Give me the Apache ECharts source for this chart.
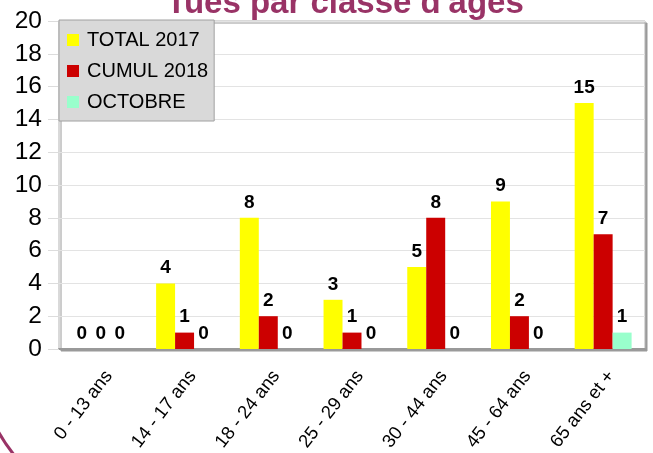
<!DOCTYPE html>
<html>
<head>
<meta charset="utf-8">
<script src="https://cdn.jsdelivr.net/npm/echarts@6/dist/echarts.min.js"></script>
<style>
  html, body { margin: 0; padding: 0; background: #fff; }
  #container { width: 653px; height: 453px; }
</style>
</head>
<body>
<div id="container"></div>
<script>
var categories = ['0 - 13 ans', '14 - 17 ans', '18 - 24 ans', '25 - 29 ans', '30 - 44 ans', '45 - 64 ans', '65 ans et +'];
var total2017 = [0, 4, 8, 3, 5, 9, 15];
var cumul2018 = [0, 1, 2, 1, 8, 2, 7];
var octobre = [0, 0, 0, 0, 0, 0, 1];

var FONT = 'Liberation Sans';
var myChart = echarts.init(document.getElementById('container'));

function barSeries(name, data, color) {
    return {
        name: name,
        type: 'bar',
        data: data,
        barGap: 0,
        barCategoryGap: '32%',
        itemStyle: { color: color },
        label: {
            show: true,
            position: 'top',
            distance: 6,
            color: '#000',
            fontFamily: FONT,
            fontWeight: 'bold',
            fontSize: 19
        }
    };
}

var option = {
    animation: false,
    backgroundColor: '#fff',
    graphic: [
        {
            type: 'text',
            x: 345, y: 20,
            z: -1,
            style: {
                text: 'Tués par classe d\'âges',
                font: 'bold 33px "Liberation Sans"',
                fill: '#993366',
                align: 'center',
                verticalAlign: 'bottom',
                shadowColor: 'rgba(0,0,0,0.55)',
                shadowOffsetX: 2,
                shadowOffsetY: 2,
                shadowBlur: 1
            }
        },
        {
            type: 'bezierCurve',
            shape: { x1: -2, y1: 431, x2: 15, y2: 456, cpx1: 5, cpy1: 444 },
            style: { stroke: '#993366', lineWidth: 3, fill: null }
        }
    ],
    grid: {
        left: 59, right: 8, top: 21, bottom: 104,
        outerBoundsMode: 'none',
        show: true,
        backgroundColor: '#fff',
        borderColor: '#b3b3b3',
        borderWidth: 1,
        shadowColor: '#9a9a9a',
        shadowOffsetX: 2,
        shadowOffsetY: 2,
        shadowBlur: 0
    },
    legend: {
        orient: 'vertical',
        left: 59, top: 20,
        icon: 'rect',
        itemWidth: 12, itemHeight: 12,
        itemGap: 11,
        padding: [10, 6, 9, 8],
        backgroundColor: '#d9d9d9',
        borderColor: '#a0a0a0',
        borderWidth: 1,
        textStyle: { fontFamily: FONT, fontSize: 20, color: '#000', padding: [0, 0, 0, 3] },
        data: ['TOTAL 2017', 'CUMUL 2018', 'OCTOBRE']
    },
    xAxis: {
        type: 'category',
        data: categories,
        axisLine: { lineStyle: { color: '#999', width: 2 } },
        axisTick: { length: 11, lineStyle: { color: '#dcdcdc' } },
        axisLabel: {
            rotate: 52,
            margin: 34,
            interval: 0,
            color: '#000',
            fontFamily: FONT,
            fontSize: 18.5,
            padding: [0, -13, 0, 0]
        }
    },
    yAxis: {
        type: 'value',
        min: 0, max: 20, interval: 2,
        axisLine: { show: false },
        axisTick: { show: true, length: 11, lineStyle: { color: '#dcdcdc' } },
        splitLine: { lineStyle: { color: '#e3e3e3' } },
        axisLabel: {
            margin: 17,
            color: '#000',
            fontFamily: FONT,
            fontSize: 24.5
        }
    },
    series: [
        barSeries('TOTAL 2017', total2017, '#ffff00'),
        barSeries('CUMUL 2018', cumul2018, '#cc0000'),
        barSeries('OCTOBRE', octobre, '#99ffcc')
    ]
};
myChart.setOption(option);
</script>
</body>
</html>
